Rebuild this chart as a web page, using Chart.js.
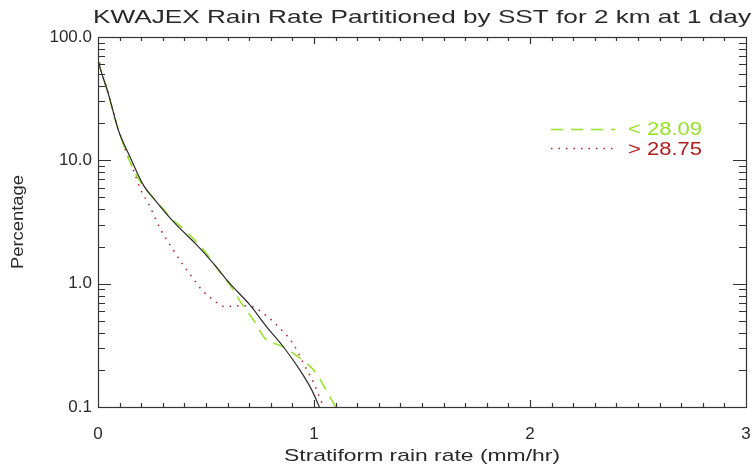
<!DOCTYPE html>
<html>
<head>
<meta charset="utf-8">
<script src="https://cdn.jsdelivr.net/npm/chart.js@4.4.0/dist/chart.umd.min.js"></script>
<style>
  body { margin: 0; background: #fff; }
  #wrap { width: 754px; height: 470px; }
</style>
</head>
<body>
<div id="wrap"><canvas id="c" width="754" height="470"></canvas></div>
<script>
// rain rate (mm/hr) and percentage
let rateAll = [0, 0.017, 0.04, 0.056, 0.094, 0.148, 0.21, 0.264, 0.349, 0.457, 0.534, 0.611, 0.704, 0.781, 0.858, 0.935, 0.99, 1.025];
let pctAll  = [65, 50.8, 38.4, 30.8, 17.6, 10.7, 6.3, 4.76, 3.18, 2.06, 1.46, 1.0, 0.67, 0.447, 0.308, 0.199, 0.137, 0.1];

let rateCold = [0, 0.017, 0.04, 0.094, 0.164, 0.21, 0.272, 0.341, 0.418, 0.495, 0.557, 0.619, 0.665, 0.719, 0.773, 0.85, 0.927, 1.005, 1.051, 1.1];
let pctCold  = [65, 51, 38.5, 17.8, 8.4, 6.2, 4.61, 3.39, 2.56, 1.82, 1.29, 0.93, 0.69, 0.51, 0.36, 0.312, 0.255, 0.193, 0.142, 0.1];

let rateWarm = [0, 0.017, 0.04, 0.094, 0.133, 0.164, 0.202, 0.233, 0.29, 0.344, 0.4, 0.441, 0.481, 0.529, 0.588, 0.65, 0.714, 0.77, 0.843, 0.907, 0.955, 1.0, 1.028, 1.045];
let pctWarm  = [71, 52, 39, 18, 11.4, 8.3, 5.56, 4.48, 2.75, 1.93, 1.37, 1.10, 0.887, 0.75, 0.65, 0.662, 0.65, 0.566, 0.434, 0.318, 0.219, 0.155, 0.117, 0.1];

let yTicks = [0.1, 1, 10, 100];
let xTicks = [0, 1, 2, 3];

let legendLabels = ['< 28.09', '> 28.75'];
let titleText = 'KWAJEX Rain Rate Partitioned by SST for 2 km at 1 day';
let xTitle = 'Stratiform rain rate (mm/hr)';
let yTitle = 'Percentage';

let green = 'rgb(150,225,40)';
let red = 'rgb(175,30,30)';
let ink = '#2a2a2a';

function pts(xs, ys) {
    let out = [];
    for (let i = 0; i < xs.length; i++) out.push({x: xs[i], y: ys[i]});
    return out;
}

function stretchText(ctx, text, cx, cy, size, width, color, rot) {
    ctx.save();
    ctx.font = size + 'px "Liberation Sans"';
    ctx.fillStyle = color;
    ctx.textAlign = 'center';
    ctx.textBaseline = 'middle';
    let w = ctx.measureText(text).width;
    ctx.translate(cx, cy);
    if (rot) ctx.rotate(rot);
    ctx.scale(width / w, 1);
    ctx.fillText(text, 0, 0);
    ctx.restore();
}

let framePlugin = {
    id: 'frame',
    afterDraw(chart) {
        let ctx = chart.ctx;
        let a = chart.chartArea;
        let xs = chart.scales.x, ys = chart.scales.y;
        ctx.save();
        ctx.strokeStyle = '#333';
        ctx.lineWidth = 1.2;
        ctx.strokeRect(a.left + 0.5, a.top + 0.5, a.right - a.left, a.bottom - a.top);
        ctx.beginPath();
        // x ticks, bottom and top
        for (let i = 1; i < 30; i++) {
            let px = Math.round(xs.getPixelForValue(i / 10)) + 0.5;
            let len = (i % 10 == 0) ? 7 : 4;
            ctx.moveTo(px, a.bottom); ctx.lineTo(px, a.bottom - len);
            ctx.moveTo(px, a.top); ctx.lineTo(px, a.top + len);
        }
        // y ticks, left and right
        for (let d = 0.1; d < 100; d *= 10) {
            for (let m = 1; m <= 9; m++) {
                let py = Math.round(ys.getPixelForValue(d * m)) + 0.5;
                let len = (m == 1) ? 13 : 7;
                ctx.moveTo(a.left, py); ctx.lineTo(a.left + len, py);
                ctx.moveTo(a.right, py); ctx.lineTo(a.right - len, py);
            }
        }
        let p100 = Math.round(ys.getPixelForValue(100)) + 0.5;
        ctx.moveTo(a.left, p100); ctx.lineTo(a.left + 13, p100);
        ctx.moveTo(a.right, p100); ctx.lineTo(a.right - 13, p100);
        ctx.stroke();

        // titles
        stretchText(ctx, titleText, (a.left + a.right) / 2, 18, 19, 658, ink);
        stretchText(ctx, xTitle, (a.left + a.right) / 2, 456, 17, 276, ink);
        stretchText(ctx, yTitle, 18, (a.top + a.bottom) / 2, 17, 94, ink, -Math.PI / 2);

        // legend
        ctx.lineWidth = 1.5;
        ctx.strokeStyle = green;
        ctx.setLineDash([12, 8]);
        ctx.beginPath(); ctx.moveTo(551, 129.5); ctx.lineTo(615, 129.5); ctx.stroke();
        ctx.strokeStyle = red;
        ctx.setLineDash([1.5, 6]);
        ctx.beginPath(); ctx.moveTo(551, 148.5); ctx.lineTo(615, 148.5); ctx.stroke();
        ctx.setLineDash([]);
        stretchText(ctx, legendLabels[0], 665, 130, 18, 74, green);
        stretchText(ctx, legendLabels[1], 665, 150, 18, 74, red);
        ctx.restore();
    }
};

new Chart(document.getElementById('c'), {
    type: 'line',
    data: {
        datasets: [
            {
                label: 'all',
                data: pts(rateAll, pctAll),
                borderColor: ink,
                borderWidth: 1.2,
                pointRadius: 0,
                cubicInterpolationMode: 'monotone'
            },
            {
                label: legendLabels[0],
                data: pts(rateCold, pctCold),
                borderColor: green,
                borderWidth: 1.5,
                borderDash: [12, 8],
                pointRadius: 0,
                cubicInterpolationMode: 'monotone'
            },
            {
                label: legendLabels[1],
                data: pts(rateWarm, pctWarm),
                borderColor: red,
                borderWidth: 1.5,
                borderDash: [1.5, 6],
                pointRadius: 0,
                cubicInterpolationMode: 'monotone'
            }
        ]
    },
    options: {
        responsive: false,
        animation: false,
        layout: { padding: { top: 37, right: 8, left: 0, bottom: 0 } },
        plugins: { legend: { display: false }, tooltip: { enabled: false } },
        scales: {
            x: {
                type: 'linear',
                min: 0, max: 3,
                afterBuildTicks: (s) => { s.ticks = xTicks.map(v => ({value: v})); },
                afterFit: (s) => { s.height = 63; s.paddingLeft = 0; s.paddingRight = 0; },
                grid: { display: false, drawTicks: false },
                border: { display: false },
                ticks: {
                    padding: 17,
                    color: ink,
                    font: { family: 'Liberation Sans', size: 17 },
                    callback: (v) => String(v)
                }
            },
            y: {
                type: 'logarithmic',
                min: 0.1, max: 100,
                afterBuildTicks: (s) => { s.ticks = yTicks.map(v => ({value: v})); },
                afterFit: (s) => { s.width = 98; s.paddingTop = 0; s.paddingBottom = 0; },
                grid: { display: false, drawTicks: false },
                border: { display: false },
                ticks: {
                    padding: 6,
                    color: ink,
                    font: { family: 'Liberation Sans', size: 17 },
                    callback: (v) => Number(v).toFixed(1)
                }
            }
        }
    },
    plugins: [framePlugin]
});
</script>
</body>
</html>
